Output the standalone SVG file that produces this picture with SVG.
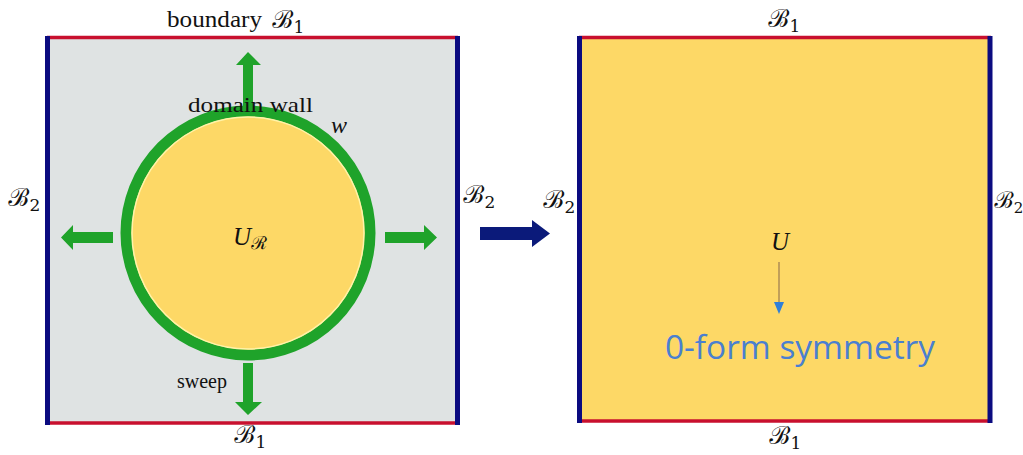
<svg xmlns="http://www.w3.org/2000/svg" width="1023" height="455" viewBox="0 0 1023 455">
<style>
.cm{font-family:"Liberation Serif","DejaVu Serif",serif;fill:#111}
.cal{font-family:"DejaVu Serif","Noto Sans",serif;font-style:italic;fill:#111}
.red{stroke:#c8102e;stroke-width:3.5}
.blue{stroke:#0b0b80;stroke-width:5}
.green{fill:#1fa32a}
</style>
<rect width="1023" height="455" fill="#ffffff"/>
<g id="left-panel">
<rect x="47" y="37" width="411" height="386" fill="#dfe3e3"/>
<line class="red" x1="47" y1="37.5" x2="458" y2="37.5"/>
<line class="red" x1="47" y1="423" x2="458" y2="423"/>
<line class="blue" x1="47.5" y1="36" x2="47.5" y2="425"/>
<line class="blue" x1="457.5" y1="36" x2="457.5" y2="425"/>
</g>
<g id="domain-wall">
<circle cx="248" cy="233" r="122" fill="#fdd866" stroke="#1fa32a" stroke-width="11"/>
<circle cx="248" cy="233" r="116" fill="none" stroke="#fff3a8" stroke-width="1.5"/>
</g>
<g id="sweep-arrows">
<polygon class="green" points="243,106 243,65 236,65 248,52 261,65 253,65 253,106"/>
<polygon class="green" points="243,363 253,363 253,402 262,402 248,415 235,402 243,402"/>
<polygon class="green" points="113,232 113,243 73,243 73,250 61,237.5 73,225 73,232"/>
<polygon class="green" points="385,232 385,243 424,243 424,250 437,237.5 424,225 424,232"/>
</g>
<g id="left-labels">
<text class="cm" x="167" y="27" font-size="23" textLength="95" lengthAdjust="spacingAndGlyphs">boundary</text>
<text class="cal" x="272" y="28" font-size="25">ℬ<tspan font-size="17" font-style="normal" dy="5">1</tspan></text>
<text class="cm" x="188" y="112" font-size="22" textLength="125" lengthAdjust="spacingAndGlyphs">domain wall</text>
<text class="cm" x="331" y="133" font-size="24" font-style="italic">w</text>
<text class="cal" x="8" y="206" font-size="25">ℬ<tspan font-size="17" font-style="normal" dy="5">2</tspan></text>
<text class="cal" x="463" y="203" font-size="25">ℬ<tspan font-size="17" font-style="normal" dy="5">2</tspan></text>
<text class="cm" x="233" y="245" font-size="25" font-style="italic">U<tspan class="cal" font-size="18" dy="4">ℛ</tspan></text>
<text class="cm" x="177" y="388" font-size="21" textLength="50" lengthAdjust="spacingAndGlyphs">sweep</text>
<text class="cal" x="234" y="443" font-size="25">ℬ<tspan font-size="17" font-style="normal" dy="5">1</tspan></text>
</g>
<g id="connector">
<polygon fill="#0b1a7a" points="480,227 532,227 532,220 550,233.5 532,247 532,240 480,240"/>
</g>
<g id="right-panel">
<rect x="579" y="37" width="411" height="385" fill="#fdd866"/>
<line class="red" x1="579" y1="37.5" x2="991" y2="37.5"/>
<line class="red" x1="579" y1="421" x2="991" y2="421"/>
<line class="blue" x1="579.5" y1="36" x2="579.5" y2="423"/>
<line class="blue" x1="990" y1="36" x2="990" y2="423"/>
</g>
<g id="right-labels">
<text class="cal" x="768" y="27" font-size="25">ℬ<tspan font-size="17" font-style="normal" dy="5">1</tspan></text>
<text class="cal" x="543" y="208" font-size="25">ℬ<tspan font-size="17" font-style="normal" dy="5">2</tspan></text>
<text class="cal" x="994" y="208" font-size="23">ℬ<tspan font-size="15" font-style="normal" dy="5">2</tspan></text>
<text class="cm" x="771" y="250" font-size="25" font-style="italic">U</text>
<line x1="779" y1="262" x2="779" y2="303" stroke="#9a7a50" stroke-width="1.2"/>
<polygon points="774,302 784,302 779,314" fill="#2f7fd8"/>
<text x="665" y="359" font-family="'Open Sans','Liberation Sans',sans-serif" font-size="32" fill="#4a7fd0" textLength="270" lengthAdjust="spacingAndGlyphs">0-form symmetry</text>
<text class="cal" x="769" y="444" font-size="25">ℬ<tspan font-size="17" font-style="normal" dy="5">1</tspan></text>
</g>
</svg>
